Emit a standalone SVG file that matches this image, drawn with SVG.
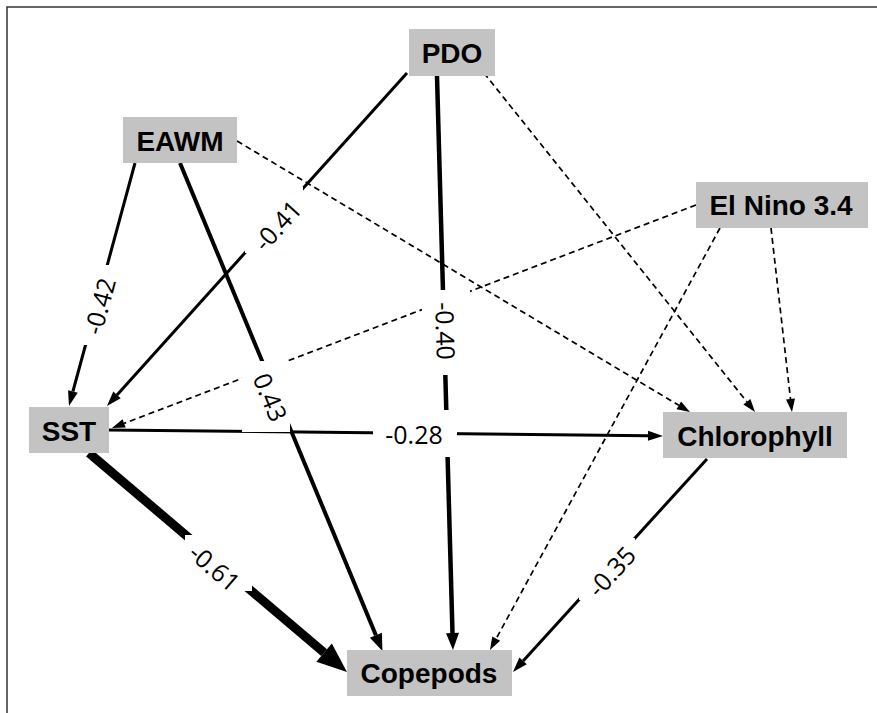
<svg xmlns="http://www.w3.org/2000/svg" width="877" height="713" viewBox="0 0 877 713">
<style>
.node rect{fill:#c3c3c3}
.node text{font-family:"Liberation Sans",Arial,sans-serif;font-weight:bold;font-size:28px;text-anchor:middle;fill:#000}
.e{fill:none;stroke:#000;stroke-linecap:butt}
.d{fill:none;stroke:#000;stroke-width:1.7;stroke-dasharray:6,4}
.lb rect{fill:#fff}
.lb text{font-family:"Open Sans","Liberation Sans",sans-serif;font-size:25px;text-anchor:middle;dominant-baseline:central;fill:#000}
</style>
<defs>
<marker id="aN" markerUnits="userSpaceOnUse" markerWidth="15" markerHeight="10" refX="0" refY="5" orient="auto" overflow="visible"><path d="M0,0 L15,5 L0,10 z" fill="#000"/></marker>
<marker id="aT" markerUnits="userSpaceOnUse" markerWidth="17" markerHeight="13" refX="0" refY="6.5" orient="auto" overflow="visible"><path d="M0,0 L17,6.5 L0,13 z" fill="#000"/></marker>
<marker id="aB" markerUnits="userSpaceOnUse" markerWidth="30" markerHeight="24" refX="0" refY="12" orient="auto" overflow="visible"><path d="M0,0 L30,12 L0,24 z" fill="#000"/></marker>
<marker id="aD" markerUnits="userSpaceOnUse" markerWidth="13" markerHeight="9" refX="0" refY="4.5" orient="auto" overflow="visible"><path d="M0,0 L13,4.5 L0,9 z" fill="#000"/></marker>
</defs>
<path d="M7,713 V7 H877" fill="none" stroke="#333" stroke-width="1.5"/>
<g id="connectors">
<path class="d" d="M237,141 L678.8,405.3" marker-end="url(#aD)"/>
<path class="d" d="M484,73 L746.9,401.8" marker-end="url(#aD)"/>
<path class="d" d="M771,228 L790.5,399.1" marker-end="url(#aD)"/>
<path class="d" d="M696,205 L124.1,423.4" marker-end="url(#aD)"/>
<path class="d" d="M720,228 L496.2,638.6" marker-end="url(#aD)"/>
<path class="e" stroke-width="3" d="M135,163 L72.9,391.5" marker-end="url(#aN)"/>
<path class="e" stroke-width="3" d="M407,73 L117,394.9" marker-end="url(#aN)"/>
<path class="e" stroke-width="4" d="M180,163 L375.9,635.2" marker-end="url(#aT)"/>
<path class="e" stroke-width="4.5" d="M437,76 L452.5,633" marker-end="url(#aT)"/>
<path class="e" stroke-width="3" d="M109,430 L648,435.8" marker-end="url(#aN)"/>
<path class="e" stroke-width="9" d="M89,453 L324.1,652.6" marker-end="url(#aB)"/>
<path class="e" stroke-width="3" d="M707,459 L523.1,660.9" marker-end="url(#aN)"/>
<g class="lb">
<rect x="76" y="265" width="42" height="80"/>
<rect x="245" y="187" width="58" height="66"/>
<rect x="242" y="361" width="48" height="71"/>
<rect x="422" y="290" width="48" height="85"/>
<rect x="373" y="410" width="84" height="47"/>
<rect x="185" y="535" width="67" height="56"/>
<rect x="579" y="538" width="56" height="62"/>
<text transform="translate(99,306) rotate(-75)">-0.42</text>
<text transform="translate(277,225) rotate(-48)">-0.41</text>
<text transform="translate(271,397) rotate(67.5)">0.43</text>
<text transform="translate(446,331) rotate(88.4)">-0.40</text>
<text transform="translate(414,434)">-0.28</text>
<text transform="translate(215,567) rotate(40.7)">-0.61</text>
<text transform="translate(611,571) rotate(-47.7)">-0.35</text>
</g>
</g>
<g id="PDO" class="node"><rect x="409" y="29" width="86" height="47"/><text x="452" y="63">PDO</text></g>
<g id="EAWM" class="node"><rect x="123" y="117" width="114" height="46"/><text x="180" y="150.5">EAWM</text></g>
<g id="ElNino" class="node"><rect x="696" y="182" width="172" height="46"/><text x="781" y="215">El Nino 3.4</text></g>
<g id="SST" class="node"><rect x="29" y="407" width="80" height="46"/><text x="69" y="440.5">SST</text></g>
<g id="Chlorophyll" class="node"><rect x="663" y="412" width="184" height="46"/><text x="755" y="445.5">Chlorophyll</text></g>
<g id="Copepods" class="node"><rect x="347" y="650" width="165" height="46"/><text x="429" y="683">Copepods</text></g>
</svg>
